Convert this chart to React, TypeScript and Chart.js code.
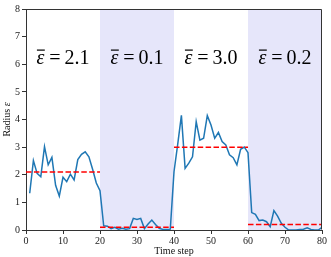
import React, { useEffect, useRef } from 'react';
import { Chart, registerables } from 'chart.js';

Chart.register(...registerables);

const timeSteps = [
  1, 2, 3, 4, 5, 6, 7, 8, 9, 10, 11, 12, 13, 14, 15, 16, 17, 18, 19, 20,
  21, 22, 23, 24, 25, 26, 27, 28, 29, 30, 31, 32, 33, 34, 35, 36, 37, 38, 39, 40,
  41, 42, 43, 44, 45, 46, 47, 48, 49, 50, 51, 52, 53, 54, 55, 56, 57, 58, 59, 60,
  61, 62, 63, 64, 65, 66, 67, 68, 69, 70, 71, 72, 73, 74, 75, 76, 77, 78, 79, 80,
];

const radius = [
  1.33, 2.51, 2.05, 1.93, 3.02, 2.36, 2.63, 1.62, 1.23, 1.91,
  1.75, 2.02, 1.81, 2.55, 2.74, 2.83, 2.65, 2.2, 1.7, 1.42,
  0.15, 0.14, 0.05, 0.1, 0.03, 0.06, 0.03, 0.05, 0.42, 0.38,
  0.42, 0.05, 0.22, 0.36, 0.2, 0.06, 0.02, 0.02, 0.03, 2.11,
  3.1, 4.15, 2.23, 2.42, 2.65, 3.92, 3.25, 3.32, 4.14, 3.8,
  3.32, 3.53, 3.2, 3.08, 2.72, 2.62, 2.36, 2.92, 3.0, 2.8,
  0.63, 0.57, 0.34, 0.36, 0.3, 0.12, 0.7, 0.5, 0.24, 0.1,
  0.0, 0.0, 0.0, 0.02, 0.03, 0.08, 0.02, 0.0, 0.0, 0.1,
];

const segmentStarts = [0, 20, 40, 60];
const segmentEnds = [20, 40, 60, 80];
const segmentMeans = [2.1, 0.1, 3.0, 0.2];
const meanLabels = ['2.1', '0.1', '3.0', '0.2'];
const shadedSegments = [false, true, false, true];

const SERIF = "'Liberation Serif', 'Times New Roman', serif";

export default function App() {
  const canvasRef = useRef<HTMLCanvasElement | null>(null);

  useEffect(() => {
    const canvas = canvasRef.current;
    if (!canvas) return;

    const shadingPlugin = {
      id: 'shading',
      beforeDraw(chart: any) {
        const { ctx, chartArea, scales } = chart;
        ctx.save();
        ctx.fillStyle = 'rgb(230,230,250)';
        segmentStarts.forEach((s, i) => {
          if (!shadedSegments[i]) return;
          const x0 = scales.x.getPixelForValue(s);
          const x1 = scales.x.getPixelForValue(segmentEnds[i]);
          ctx.fillRect(x0, chartArea.top, x1 - x0, chartArea.bottom - chartArea.top);
        });
        ctx.restore();
      },
    };

    const decorPlugin = {
      id: 'decor',
      afterDraw(chart: any) {
        const { ctx, chartArea, scales } = chart;
        ctx.save();
        // top and right spines
        ctx.strokeStyle = '#333';
        ctx.lineWidth = 1;
        ctx.beginPath();
        const l = Math.round(chartArea.left) + 0.5;
        const r = Math.round(chartArea.right) - 0.5;
        const t = Math.round(chartArea.top) + 0.5;
        const b = Math.round(chartArea.bottom) - 0.5;
        ctx.moveTo(l, t);
        ctx.lineTo(r, t);
        ctx.lineTo(r, b);
        ctx.stroke();

        // annotations
        const baseY = 64;
        segmentStarts.forEach((s, i) => {
          const cx = scales.x.getPixelForValue((s + segmentEnds[i]) / 2);
          ctx.fillStyle = '#000';
          ctx.textBaseline = 'alphabetic';
          ctx.textAlign = 'left';
          ctx.font = `italic 20px ${SERIF}`;
          const wEps = ctx.measureText('ε').width;
          ctx.font = `20px ${SERIF}`;
          const wEq = ctx.measureText('=').width;
          const wNum = ctx.measureText(meanLabels[i]).width;
          const gap1 = 5;
          const gap2 = 4;
          const total = wEps + gap1 + wEq + gap2 + wNum;
          let x = cx - total / 2;
          ctx.font = `italic 20px ${SERIF}`;
          ctx.fillText('ε', x, baseY);
          // overline
          ctx.fillRect(x + 0.5, baseY - 14.5, wEps, 1.2);
          x += wEps + gap1;
          ctx.font = `20px ${SERIF}`;
          ctx.fillText('=', x, baseY);
          x += wEq + gap2;
          ctx.fillText(meanLabels[i], x, baseY);
        });

        // axis titles
        ctx.fillStyle = '#111';
        ctx.font = `10px ${SERIF}`;
        ctx.textAlign = 'center';
        ctx.textBaseline = 'alphabetic';
        const xc = (chartArea.left + chartArea.right) / 2;
        ctx.fillText('Time step', xc, 253.5);

        ctx.translate(10.3, (chartArea.top + chartArea.bottom) / 2);
        ctx.rotate(-Math.PI / 2);
        ctx.textAlign = 'left';
        ctx.font = `10px ${SERIF}`;
        const w1 = ctx.measureText('Radius ').width;
        ctx.font = `italic 10px ${SERIF}`;
        const w2 = ctx.measureText('ε').width;
        const start = -(w1 + w2) / 2;
        ctx.font = `10px ${SERIF}`;
        ctx.fillText('Radius ', start, 0);
        ctx.font = `italic 10px ${SERIF}`;
        ctx.fillText('ε', start + w1, 0);
        ctx.restore();
      },
    };

    const meanDatasets = segmentStarts.map((s, i) => ({
      label: `mean ${i}`,
      data: [
        { x: s, y: segmentMeans[i] },
        { x: segmentEnds[i], y: segmentMeans[i] },
      ],
      borderColor: '#ff0000',
      borderWidth: 1.5,
      borderDash: [5.5, 2.4],
      pointRadius: 0,
      fill: false,
      order: 0,
    }));

    const chart = new Chart(canvas, {
      type: 'line',
      data: {
        datasets: [
          {
            label: 'radius',
            data: timeSteps.map((t, i) => ({ x: t, y: radius[i] })),
            borderColor: '#1f77b4',
            borderWidth: 1.5,
            pointRadius: 0,
            tension: 0,
            fill: false,
            order: 1,
          },
          ...meanDatasets,
        ],
      },
      options: {
        animation: false,
        responsive: false,
        devicePixelRatio: 1,
        layout: { padding: { top: 9, right: 9, left: 0, bottom: 0 } },
        plugins: {
          legend: { display: false },
          tooltip: { enabled: false },
        },
        scales: {
          x: {
            type: 'linear',
            min: 0,
            max: 80,
            afterFit(s: any) {
              s.height = 27;
            },
            ticks: {
              stepSize: 10,
              padding: 1,
              color: '#222',
              font: { family: SERIF, size: 10 },
              maxRotation: 0,
            },
            grid: {
              display: true,
              drawOnChartArea: false,
              drawTicks: true,
              tickLength: 4,
              color: '#333',
            },
            border: { display: true, color: '#333', width: 1 },
          },
          y: {
            type: 'linear',
            min: 0,
            max: 8,
            afterFit(s: any) {
              s.width = 26;
            },
            ticks: {
              stepSize: 1,
              padding: 2,
              color: '#222',
              font: { family: SERIF, size: 10 },
            },
            grid: {
              display: true,
              drawOnChartArea: false,
              drawTicks: true,
              tickLength: 4,
              color: '#333',
            },
            border: { display: true, color: '#333', width: 1 },
          },
        },
      },
      plugins: [shadingPlugin, decorPlugin],
    });

    return () => chart.destroy();
  }, []);

  return (
    <div style={{ position: 'absolute', left: 0, top: 0, width: 331, height: 257, background: '#fff' }}>
      <canvas ref={canvasRef} width={331} height={257} style={{ display: 'block' }} />
    </div>
  );
}
